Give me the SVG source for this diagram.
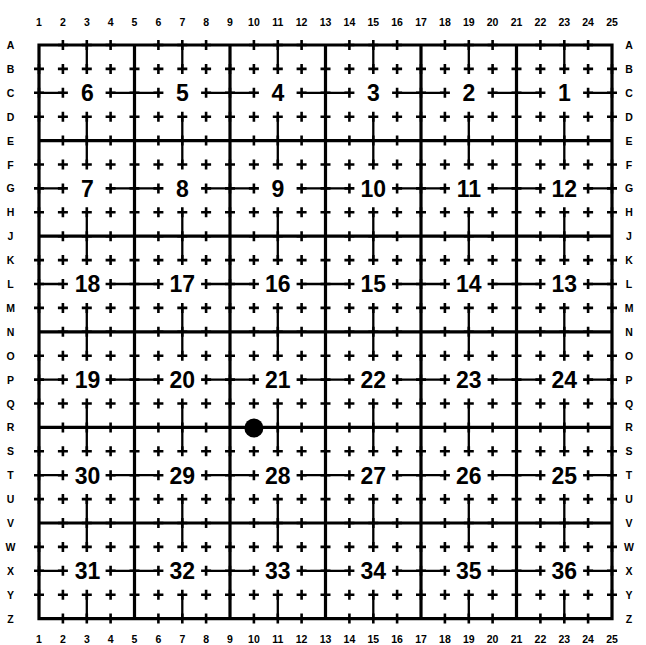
<svg xmlns="http://www.w3.org/2000/svg" xmlns:xlink="http://www.w3.org/1999/xlink" width="646" height="645" viewBox="0 0 646 645">
<style>
.sec{fill:none;stroke:#000;stroke-width:3.2;stroke-linecap:square}
.qtr{fill:none;stroke:#000;stroke-width:2.3}
.crs{fill:none;stroke:#000;stroke-width:2.6}
.lbl{font-family:"Liberation Sans",Arial,sans-serif;font-weight:bold;font-size:23px;text-anchor:middle;fill:#000}
.ax{font-family:"Liberation Sans",Arial,sans-serif;font-weight:bold;font-size:10.5px;text-anchor:middle;fill:#000}
</style>
<defs>
<path id="ce" class="crs" d="M57.9,0h10M62.9,-5v10M105.6,0h10M110.6,-5v10M153.4,0h10M158.4,-5v10M201.1,0h10M206.1,-5v10M248.9,0h10M253.9,-5v10M296.6,0h10M301.6,-5v10M344.4,0h10M349.4,-5v10M392.1,0h10M397.1,-5v10M439.9,0h10M444.9,-5v10M487.6,0h10M492.6,-5v10M535.4,0h10M540.4,-5v10M583.1,0h10M588.1,-5v10"/>
<path id="c1" class="crs" d="M34,0h10M39,-5v10M129.5,0h10M134.5,-5v10M225,0h10M230,-5v10M320.5,0h10M325.5,-5v10M416,0h10M421,-5v10M511.5,0h10M516.5,-5v10M607,0h10M612,-5v10"/>
<path id="c3" class="crs" d="M81.8,0h10M86.8,-5v10M177.3,0h10M182.3,-5v10M272.8,0h10M277.8,-5v10M368.3,0h10M373.3,-5v10M463.8,0h10M468.8,-5v10M559.3,0h10M564.3,-5v10"/>
<g id="rowFull"><use href="#ce"/><use href="#c1"/><use href="#c3"/></g>
<g id="rowBound"><use href="#ce"/><use href="#c3"/></g>
<g id="rowLabel"><use href="#ce"/><use href="#c1"/></g>
<path id="hq" class="qtr" d="M39,0H62.9M110.6,0H158.4M206.1,0H253.9M301.6,0H349.4M397.1,0H444.9M492.6,0H540.4M588.1,0H612"/>
<path id="vq" class="qtr" d="M0,45V68.9M0,116.7V164.5M0,212.3V260.1M0,307.9V355.7M0,403.5V451.3M0,499.1V546.9M0,594.7V618.6"/>
</defs>
<rect width="646" height="645" fill="#fff"/>

<g id="connectors">
<path class="sec" d="M39,45V618.6M134.5,45V618.6M230,45V618.6M325.5,45V618.6M421,45V618.6M516.5,45V618.6M612,45V618.6M39,45H612M39,140.6H612M39,236.2H612M39,331.8H612M39,427.4H612M39,523H612M39,618.6H612"/>
<use href="#hq" y="92.8"/><use href="#hq" y="188.4"/><use href="#hq" y="284"/><use href="#hq" y="379.6"/><use href="#hq" y="475.2"/><use href="#hq" y="570.8"/>
<use href="#vq" x="86.8"/><use href="#vq" x="182.3"/><use href="#vq" x="277.8"/><use href="#vq" x="373.3"/><use href="#vq" x="468.8"/><use href="#vq" x="564.3"/>
</g>

<g id="crosses">
<use href="#rowBound" y="45"/>
<use href="#rowFull" y="68.9"/>
<use href="#rowLabel" y="92.8"/>
<use href="#rowFull" y="116.7"/>
<use href="#rowBound" y="140.6"/>
<use href="#rowFull" y="164.5"/>
<use href="#rowLabel" y="188.4"/>
<use href="#rowFull" y="212.3"/>
<use href="#rowBound" y="236.2"/>
<use href="#rowFull" y="260.1"/>
<use href="#rowLabel" y="284"/>
<use href="#rowFull" y="307.9"/>
<use href="#rowBound" y="331.8"/>
<use href="#rowFull" y="355.7"/>
<use href="#rowLabel" y="379.6"/>
<use href="#rowFull" y="403.5"/>
<use href="#rowBound" y="427.4"/>
<use href="#rowFull" y="451.3"/>
<use href="#rowLabel" y="475.2"/>
<use href="#rowFull" y="499.1"/>
<use href="#rowBound" y="523"/>
<use href="#rowFull" y="546.9"/>
<use href="#rowLabel" y="570.8"/>
<use href="#rowFull" y="594.7"/>
<use href="#rowBound" y="618.6"/>
</g>

<g id="sections">
<g id="s6"><text class="lbl" x="87.5" y="101.1">6</text></g>
<g id="s5"><text class="lbl" x="182.3" y="101.1">5</text></g>
<g id="s4"><text class="lbl" x="277.8" y="101.1">4</text></g>
<g id="s3"><text class="lbl" x="373.3" y="101.1">3</text></g>
<g id="s2"><text class="lbl" x="468.8" y="101.1">2</text></g>
<g id="s1"><text class="lbl" x="564.3" y="101.1">1</text></g>
<g id="s7"><text class="lbl" x="87.5" y="196.7">7</text></g>
<g id="s8"><text class="lbl" x="182.3" y="196.7">8</text></g>
<g id="s9"><text class="lbl" x="277.8" y="196.7">9</text></g>
<g id="s10"><text class="lbl" x="373.3" y="196.7">10</text></g>
<g id="s11"><text class="lbl" x="468.8" y="196.7">11</text></g>
<g id="s12"><text class="lbl" x="564.3" y="196.7">12</text></g>
<g id="s18"><text class="lbl" x="87.5" y="292.3">18</text></g>
<g id="s17"><text class="lbl" x="182.3" y="292.3">17</text></g>
<g id="s16"><text class="lbl" x="277.8" y="292.3">16</text></g>
<g id="s15"><text class="lbl" x="373.3" y="292.3">15</text></g>
<g id="s14"><text class="lbl" x="468.8" y="292.3">14</text></g>
<g id="s13"><text class="lbl" x="564.3" y="292.3">13</text></g>
<g id="s19"><text class="lbl" x="87.5" y="387.9">19</text></g>
<g id="s20"><text class="lbl" x="182.3" y="387.9">20</text></g>
<g id="s21"><text class="lbl" x="277.8" y="387.9">21</text></g>
<g id="s22"><text class="lbl" x="373.3" y="387.9">22</text></g>
<g id="s23"><text class="lbl" x="468.8" y="387.9">23</text></g>
<g id="s24"><text class="lbl" x="564.3" y="387.9">24</text></g>
<g id="s30"><text class="lbl" x="87.5" y="483.5">30</text></g>
<g id="s29"><text class="lbl" x="182.3" y="483.5">29</text></g>
<g id="s28"><text class="lbl" x="277.8" y="483.5">28</text></g>
<g id="s27"><text class="lbl" x="373.3" y="483.5">27</text></g>
<g id="s26"><text class="lbl" x="468.8" y="483.5">26</text></g>
<g id="s25"><text class="lbl" x="564.3" y="483.5">25</text></g>
<g id="s31"><text class="lbl" x="87.5" y="579.1">31</text></g>
<g id="s32"><text class="lbl" x="182.3" y="579.1">32</text></g>
<g id="s33"><text class="lbl" x="277.8" y="579.1">33</text></g>
<g id="s34"><text class="lbl" x="373.3" y="579.1">34</text></g>
<g id="s35"><text class="lbl" x="468.8" y="579.1">35</text></g>
<g id="s36"><text class="lbl" x="564.3" y="579.1">36</text></g>
</g>

<g id="marker-dot"><circle cx="253.9" cy="428" r="9.5" fill="#000"/></g>

<g id="col-labels-top" class="ax">
<text x="39" y="26">1</text><text x="62.9" y="26">2</text><text x="86.8" y="26">3</text><text x="110.6" y="26">4</text><text x="134.5" y="26">5</text><text x="158.4" y="26">6</text><text x="182.3" y="26">7</text><text x="206.1" y="26">8</text><text x="230" y="26">9</text><text x="253.9" y="26">10</text><text x="277.8" y="26">11</text><text x="301.6" y="26">12</text><text x="325.5" y="26">13</text><text x="349.4" y="26">14</text><text x="373.3" y="26">15</text><text x="397.1" y="26">16</text><text x="421" y="26">17</text><text x="444.9" y="26">18</text><text x="468.8" y="26">19</text><text x="492.6" y="26">20</text><text x="516.5" y="26">21</text><text x="540.4" y="26">22</text><text x="564.3" y="26">23</text><text x="588.1" y="26">24</text><text x="612" y="26">25</text>
</g>
<g id="col-labels-bottom" class="ax">
<text x="39" y="643">1</text><text x="62.9" y="643">2</text><text x="86.8" y="643">3</text><text x="110.6" y="643">4</text><text x="134.5" y="643">5</text><text x="158.4" y="643">6</text><text x="182.3" y="643">7</text><text x="206.1" y="643">8</text><text x="230" y="643">9</text><text x="253.9" y="643">10</text><text x="277.8" y="643">11</text><text x="301.6" y="643">12</text><text x="325.5" y="643">13</text><text x="349.4" y="643">14</text><text x="373.3" y="643">15</text><text x="397.1" y="643">16</text><text x="421" y="643">17</text><text x="444.9" y="643">18</text><text x="468.8" y="643">19</text><text x="492.6" y="643">20</text><text x="516.5" y="643">21</text><text x="540.4" y="643">22</text><text x="564.3" y="643">23</text><text x="588.1" y="643">24</text><text x="612" y="643">25</text>
</g>
<g id="row-labels-left" class="ax">
<text x="10.5" y="49">A</text><text x="10.5" y="72.9">B</text><text x="10.5" y="96.8">C</text><text x="10.5" y="120.7">D</text><text x="10.5" y="144.6">E</text><text x="10.5" y="168.5">F</text><text x="10.5" y="192.4">G</text><text x="10.5" y="216.3">H</text><text x="10.5" y="240.2">J</text><text x="10.5" y="264.1">K</text><text x="10.5" y="288">L</text><text x="10.5" y="311.9">M</text><text x="10.5" y="335.8">N</text><text x="10.5" y="359.7">O</text><text x="10.5" y="383.6">P</text><text x="10.5" y="407.5">Q</text><text x="10.5" y="431.4">R</text><text x="10.5" y="455.3">S</text><text x="10.5" y="479.2">T</text><text x="10.5" y="503.1">U</text><text x="10.5" y="527">V</text><text x="10.5" y="550.9">W</text><text x="10.5" y="574.8">X</text><text x="10.5" y="598.7">Y</text><text x="10.5" y="622.6">Z</text>
</g>
<g id="row-labels-right" class="ax">
<text x="629" y="49">A</text><text x="629" y="72.9">B</text><text x="629" y="96.8">C</text><text x="629" y="120.7">D</text><text x="629" y="144.6">E</text><text x="629" y="168.5">F</text><text x="629" y="192.4">G</text><text x="629" y="216.3">H</text><text x="629" y="240.2">J</text><text x="629" y="264.1">K</text><text x="629" y="288">L</text><text x="629" y="311.9">M</text><text x="629" y="335.8">N</text><text x="629" y="359.7">O</text><text x="629" y="383.6">P</text><text x="629" y="407.5">Q</text><text x="629" y="431.4">R</text><text x="629" y="455.3">S</text><text x="629" y="479.2">T</text><text x="629" y="503.1">U</text><text x="629" y="527">V</text><text x="629" y="550.9">W</text><text x="629" y="574.8">X</text><text x="629" y="598.7">Y</text><text x="629" y="622.6">Z</text>
</g>
</svg>
